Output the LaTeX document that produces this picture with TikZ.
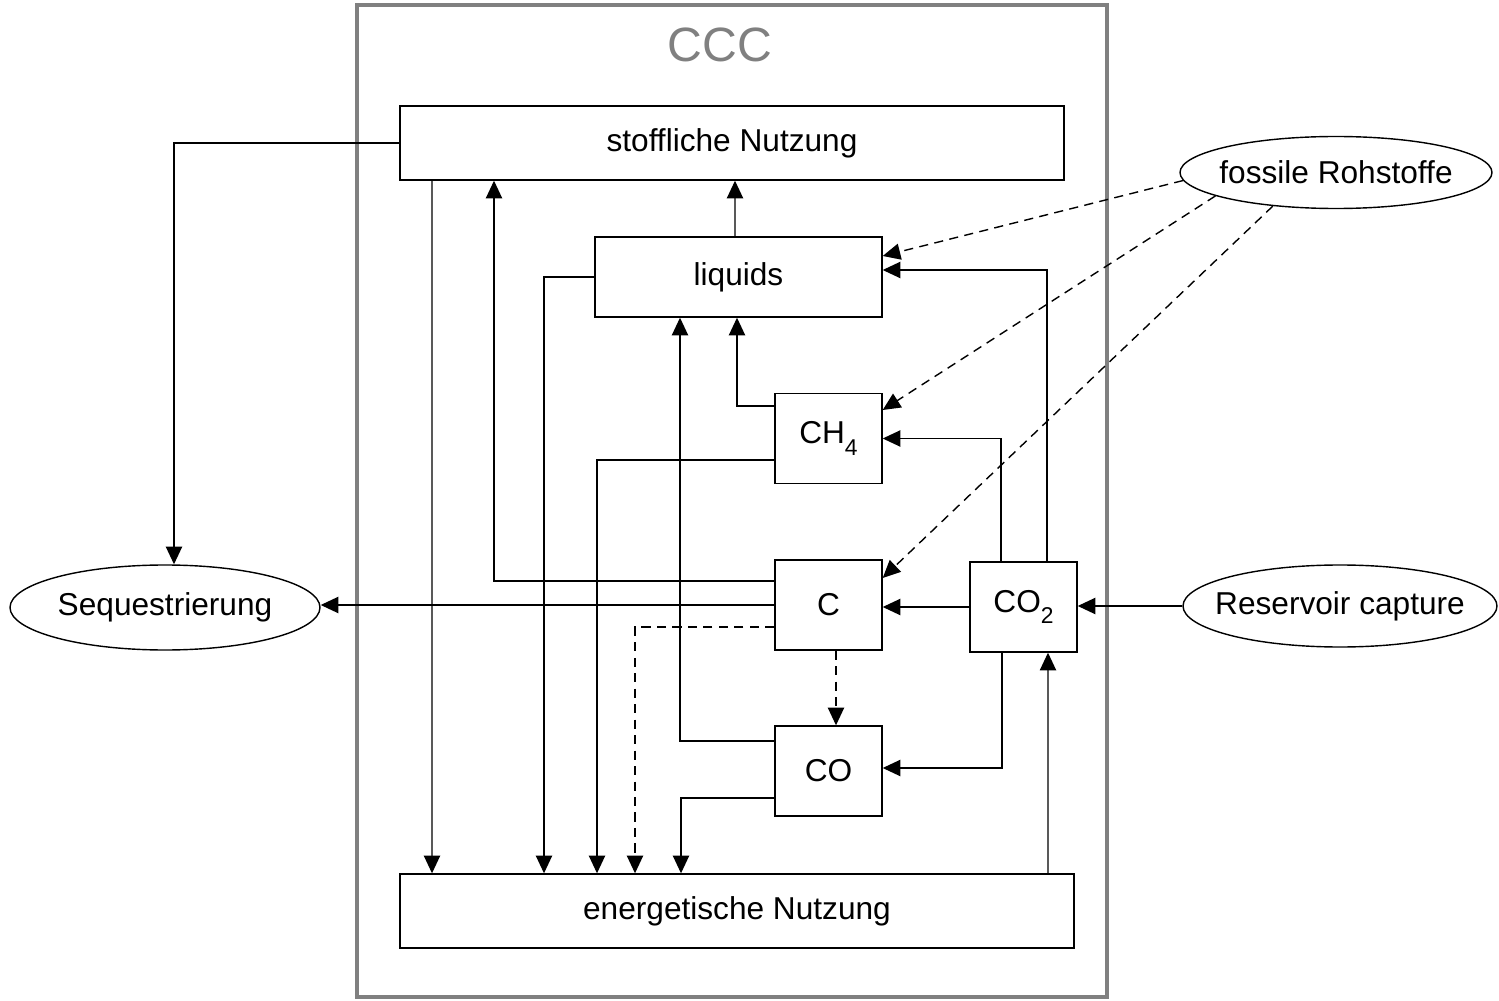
\documentclass[tikz,border=0pt]{standalone}
\usepackage{fontspec}
\setmainfont{Liberation Sans}
\usetikzlibrary{
  shapes.geometric, % Shape "ellipse"
  arrows.meta,
  positioning,
}
\definecolor{framegray}{RGB}{128,128,128}
\newcommand{\nowidth}[1]{\makebox[0pt]{#1}}  % Text does not widen the ellipse
\newcommand{\lowsub}[1]{\raisebox{-0.7ex}{\fontsize{6.5}{7}\selectfont#1}}
\tikzset{
  font=\fontsize{9}{11}\selectfont,
  line width=0.7pt,
  >={Triangle[length=5pt,width=4.6pt]},
  my box/.style={
    draw,
    rectangle,
    inner sep=0mm
  },
  my wide box/.style={
    my box,
    minimum height=7.4mm
  },
  my small box/.style={
    my box,
    minimum width=10.7mm,
    minimum height=9mm
  },
  my ellipse/.style={
    draw,
    ellipse,
    inner sep=0mm
  },
  my dashed/.style={
    dash pattern=on 2.6pt off 1.8pt
  },
  my frame/.style={
    draw=framegray,
    line width=1.1pt
  }
}
\begin{document}
\begin{tikzpicture}[x=0.1mm,y=-0.1mm]
\useasboundingbox (0,0) rectangle (1499,1001);
\draw[my frame] (357,5) rectangle (1107,997);
\node[text=framegray,font=\fontsize{13.7}{16}\selectfont] (ccc) at (720,45) {CCC};

\node[my wide box,minimum width=66.4mm] (stoff) at (732,143) {stoffliche Nutzung};
\node[my box,minimum width=28.7mm,minimum height=8mm] (liq) at (738.5,277) {liquids};
\node[my small box] (ch4) at (828.5,438.5) {CH\lowsub{4}};
\node[my small box] (c) at (828.5,605) {C};
\node[my small box] (co2) at (1023.5,607) {CO\lowsub{2}};
\node[my small box] (co) at (828.5,771) {CO};
\node[my wide box,minimum width=67.4mm] (energ) at (737,911) {energetische Nutzung};
\node[my ellipse,minimum width=31mm,minimum height=8.5mm] (seq) at (165,607.5) {\nowidth{Sequestrierung}};
\node[my ellipse,minimum width=31.4mm,minimum height=8.2mm] (res) at (1340,606) {\nowidth{Reservoir capture}};
\node[my ellipse,minimum width=31.2mm,minimum height=7.2mm] (foss) at (1336,172.5) {\nowidth{fossile Rohstoffe}};

\draw[->] (stoff.west) -| ([xshift=0.9mm]seq.north);
\draw[->] ([xshift=-30mm]stoff.south) -- ([xshift=-30.5mm]energ.north);
\draw[->] ([yshift=2.4mm]c.west) -| ([xshift=-23.8mm]stoff.south);
\draw[->] ([xshift=-0.35mm]liq.north) -- ([xshift=0.3mm]stoff.south);
\draw[->] (liq.west) -| ([xshift=-19.3mm]energ.north);
\draw[->] ([yshift=3.25mm]ch4.west) -| ([xshift=-0.15mm]liq.south);
\draw[->] ([yshift=3mm]co.west) -| ([xshift=-5.85mm]liq.south);
\draw[->] ([yshift=-2.15mm]ch4.west) -| ([xshift=-14mm]energ.north);
\draw[->] (c.west) -- (c.west -| seq.east);
\draw[->,my dashed] ([yshift=-2.2mm]c.west) -| ([xshift=-10.2mm]energ.north);
\draw[->,my dashed] ([xshift=0.75mm]c.south) -- ([xshift=0.75mm]co.north);
\draw[->] ([yshift=-2.7mm]co.west) -| ([xshift=-5.6mm]energ.north);
\draw[->] (co2.west) -- (co2.west -| c.east);
\draw[->] ([xshift=-2.25mm]co2.north) |- (ch4.east);
\draw[->] ([xshift=2.35mm]co2.north) |- ([yshift=0.7mm]liq.east);
\draw[->] ([xshift=-2.15mm]co2.south) |- ([yshift=0.3mm]co.east);
\draw[->] ([xshift=31.1mm]energ.north) -- ([xshift=2.45mm]co2.south);
\draw[->] (res.west) -- (res.west -| co2.east);
% Dashed inputs from fossil sources
\draw[->,my dashed] (foss.183) -- ([yshift=2.1mm]liq.east);
\draw[->,my dashed] (foss.191) -- ([yshift=2.85mm]ch4.east);
\draw[->,my dashed] (foss.208) -- ([yshift=2.7mm]c.east);
\end{tikzpicture}
\end{document}
